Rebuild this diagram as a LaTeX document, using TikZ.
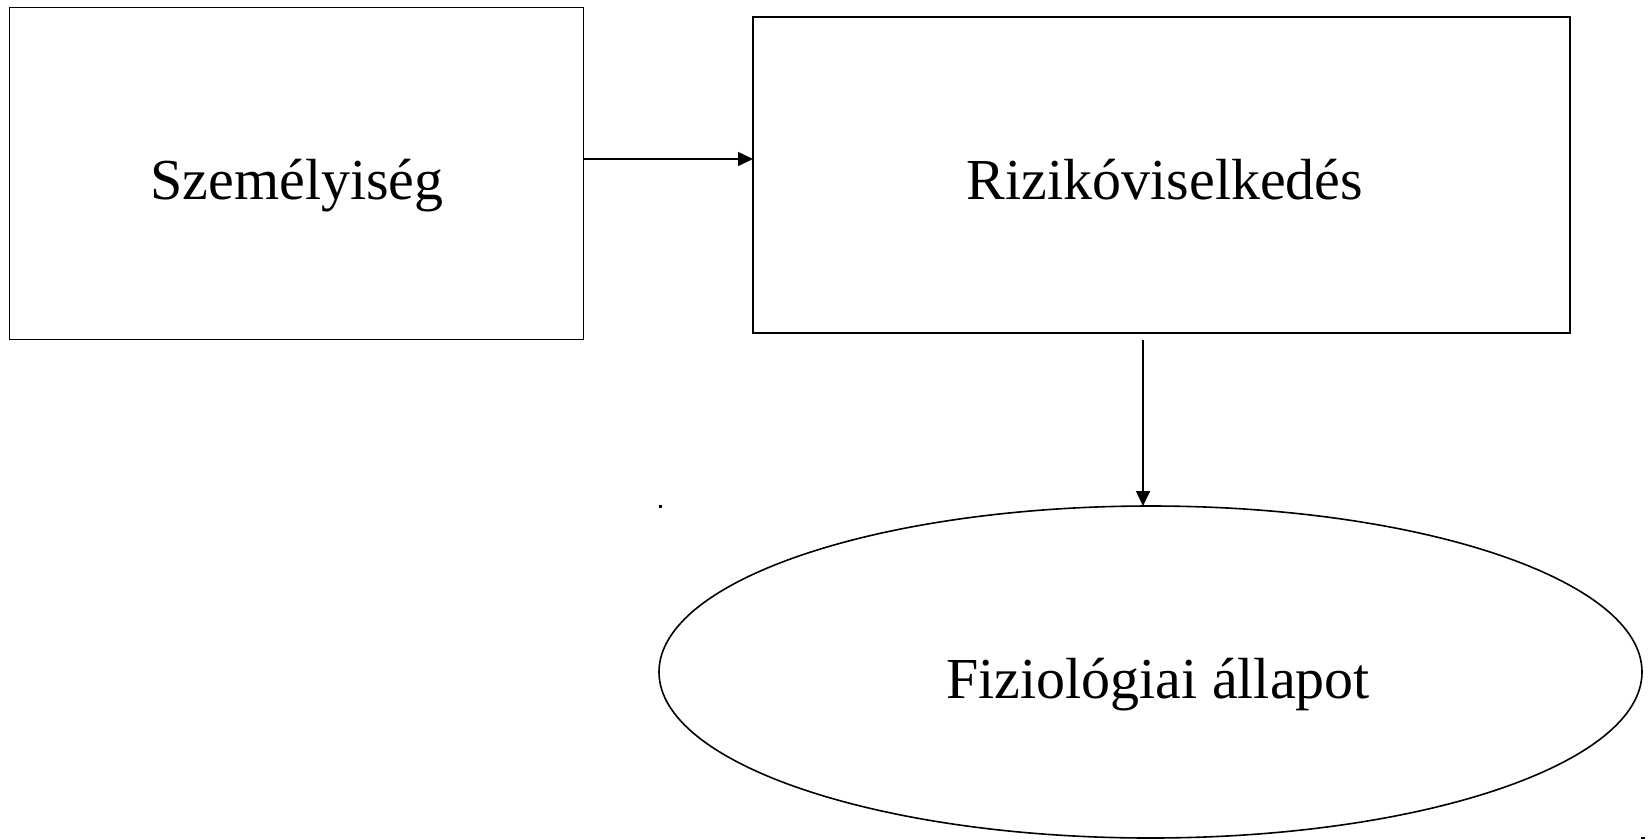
\documentclass[tikz,border=0pt]{standalone}
\usepackage{fontspec}
\setmainfont{Liberation Serif}
\usetikzlibrary{arrows.meta,shapes.geometric}
\begin{document}
\begin{tikzpicture}[x=1pt,y=-1pt,
  boxstyle/.style={draw=black,line width=1.6pt,rectangle,inner sep=0pt},
  ovalstyle/.style={draw=black,line width=1.6pt,ellipse,inner sep=0pt},
  lbl/.style={font=\fontsize{58}{60}\selectfont,anchor=base,inner sep=0pt},
  conn/.style={line width=1.6pt,-{Triangle[length=15pt,width=14pt]}}]
\useasboundingbox (0,0) rectangle (1649,839);
\node[boxstyle,minimum width=574pt,minimum height=332pt] (pers) at (296.5,173.5) {};
\node[boxstyle,minimum width=817pt,minimum height=316pt] (risk) at (1161.5,175) {};
\node[ovalstyle,minimum width=983pt,minimum height=332pt] (phys) at (1150.5,672) {};
\node[lbl] (t1) at (297,199) {Személyiség};
\node[lbl] (t2) at (1165,199) {Rizikóviselkedés};
\node[lbl] (t3) at (1158,698) {Fiziológiai állapot};
\coordinate (hs) at (584,159);
\coordinate (he) at (753,159);
\draw[conn] (hs) -- (he);
\coordinate (vs) at (1143,340);
\coordinate (ve) at (1143,506);
\draw[conn] (vs) -- (ve);
\fill[black] (658.5,505) rectangle (661.5,507.5);
\fill[black] (1641,836.5) rectangle (1645,839);
\end{tikzpicture}
\end{document}
